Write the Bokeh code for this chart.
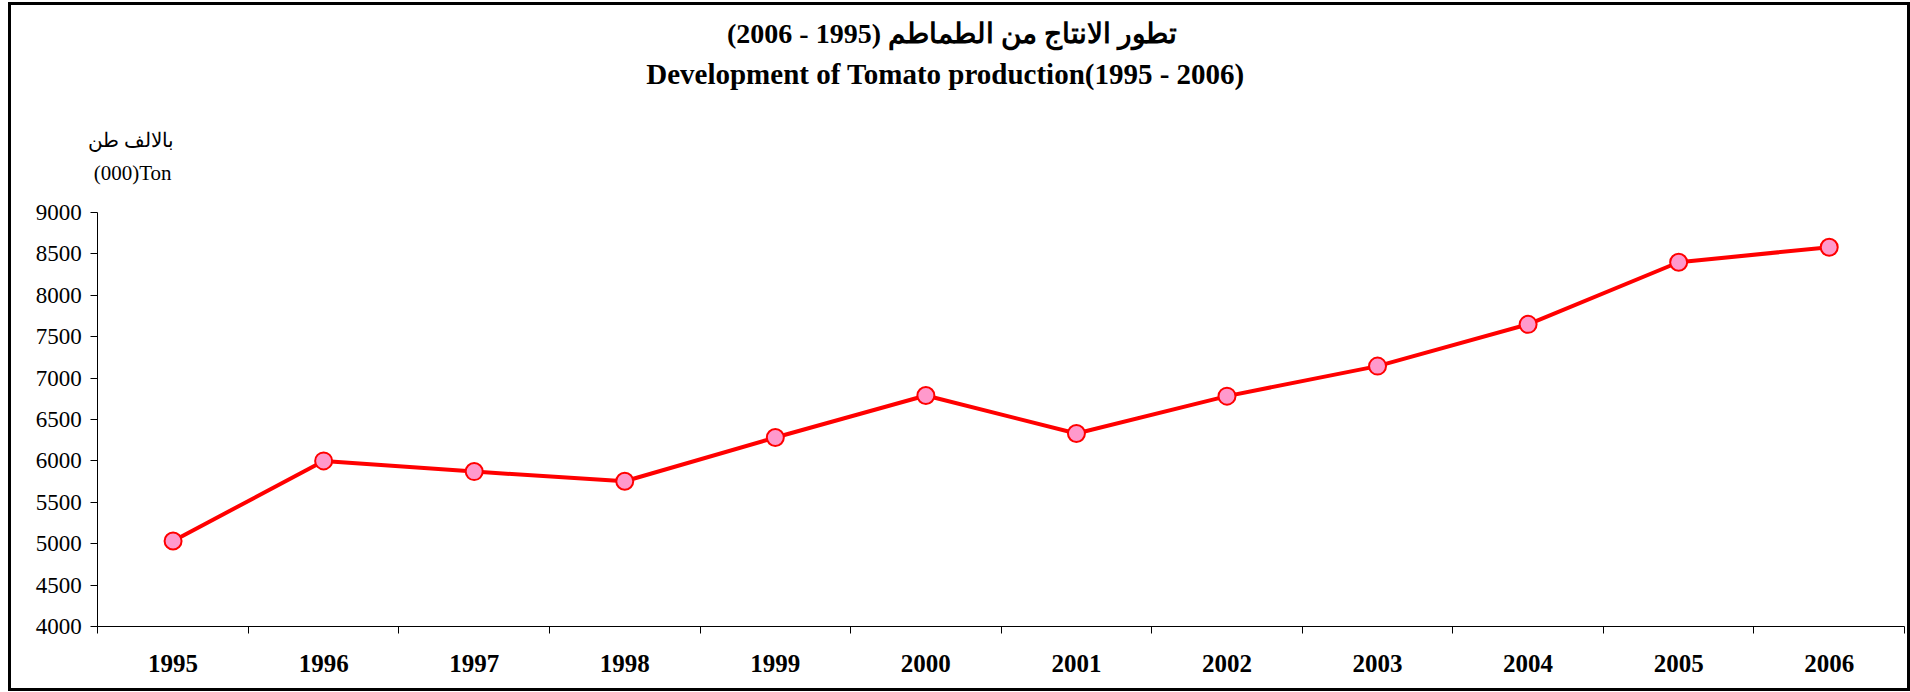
from bokeh.plotting import figure
from bokeh.models import Range1d, FixedTicker, Label, LinearAxis
from bokeh.embed import file_html
from bokeh.resources import INLINE

years = ["1995", "1996", "1997", "1998", "1999", "2000", "2001", "2002", "2003", "2004", "2005", "2006"]
production = [5032, 6000, 5871, 5754, 6282, 6790, 6331, 6782, 7145, 7649, 8399, 8581]
y_ticks = [4000, 4500, 5000, 5500, 6000, 6500, 7000, 7500, 8000, 8500, 9000]
title_ar = "تطور الانتاج من الطماطم  (1995 - 2006)"
title_en = "Development of Tomato production(1995 - 2006)"
unit_ar = "بالالف طن"
unit_en = "(000)Ton"

W, H = 1902, 689          # figure drawn at page offset (8, 2)
FONT = "Liberation Serif"

# pixel layout of the plotting area inside the chart box (page pixels)
AX_L, AX_R, AX_T, AX_B = 97.3, 1904.0, 212.0, 626.0
OX, OY = 8, 2
n = len(years)
px_x = (AX_R - AX_L) / n
px_y = (AX_B - AX_T) / (y_ticks[-1] - y_ticks[0])
x_lo = (OX - AX_L) / px_x
x_hi = n + (OX + W - AX_R) / px_x
y_hi = y_ticks[-1] + (AX_T - OY) / px_y
y_lo = y_ticks[0] - (OY + H - AX_B) / px_y

x = [i + 0.5 for i in range(n)]

p = figure(width=W, height=H, output_backend="svg", toolbar_location=None,
           x_range=Range1d(x_lo, x_hi), y_range=Range1d(y_lo, y_hi),
           x_axis_location=None, y_axis_location=None,
           min_border=0)
p.grid.visible = False
p.outline_line_color = None
p.background_fill_color = None
p.border_fill_color = None
p.styles = {"margin-left": "8px", "margin-top": "2px",
            "box-shadow": "inset 0 0 0 3px black", "background-color": "white"}

# y axis
ya = LinearAxis(ticker=FixedTicker(ticks=y_ticks), fixed_location=0,
                bounds=(y_ticks[0], y_ticks[-1]))
ya.axis_line_color = "black"
ya.major_tick_line_color = "black"
ya.major_tick_out = 7
ya.major_tick_in = 0
ya.minor_tick_line_color = None
ya.major_label_text_font = FONT
ya.major_label_text_font_size = "23px"
ya.major_label_text_color = "black"
ya.major_label_standoff = 9
p.add_layout(ya, "left")

# x axis: labels at category centres, tick marks at boundaries
xa = LinearAxis(ticker=FixedTicker(ticks=x, minor_ticks=list(range(n + 1))),
                fixed_location=y_ticks[0], bounds=(0, n))
xa.axis_line_color = "black"
xa.major_tick_line_color = None
xa.major_tick_out = 0
xa.major_tick_in = 0
xa.minor_tick_line_color = "black"
xa.minor_tick_out = 7
xa.minor_tick_in = 0
xa.major_label_overrides = {xv: yr for xv, yr in zip(x, years)}
xa.major_label_text_font = FONT
xa.major_label_text_font_style = "bold"
xa.major_label_text_font_size = "25px"
xa.major_label_text_color = "black"
xa.major_label_standoff = 21
p.add_layout(xa, "below")

p.line(x, production, line_color="#FF0000", line_width=4)
p.scatter(x, production, size=17, marker="circle", fill_color="#FF99CC",
          line_color="#FF0000", line_width=2)

# titles and unit labels (screen units relative to the frame = whole figure)
def lab(txt, rx, ry, align, size, bold=False):
    p.add_layout(Label(x=rx - OX, y=(OY + H) - ry, x_units="screen", y_units="screen", text=txt,
                       text_align=align, text_baseline="middle", text_font=FONT,
                       text_font_style="bold" if bold else "normal",
                       text_font_size=size, text_color="black"))

lab(title_ar, 955, 33, "center", "28px", True)
lab(title_en, 945, 73, "center", "29px", True)
lab(unit_ar, 173, 139, "right", "20px")
lab(unit_en, 171, 172, "right", "21px")

open("out.html", "w").write(file_html(p, INLINE))
